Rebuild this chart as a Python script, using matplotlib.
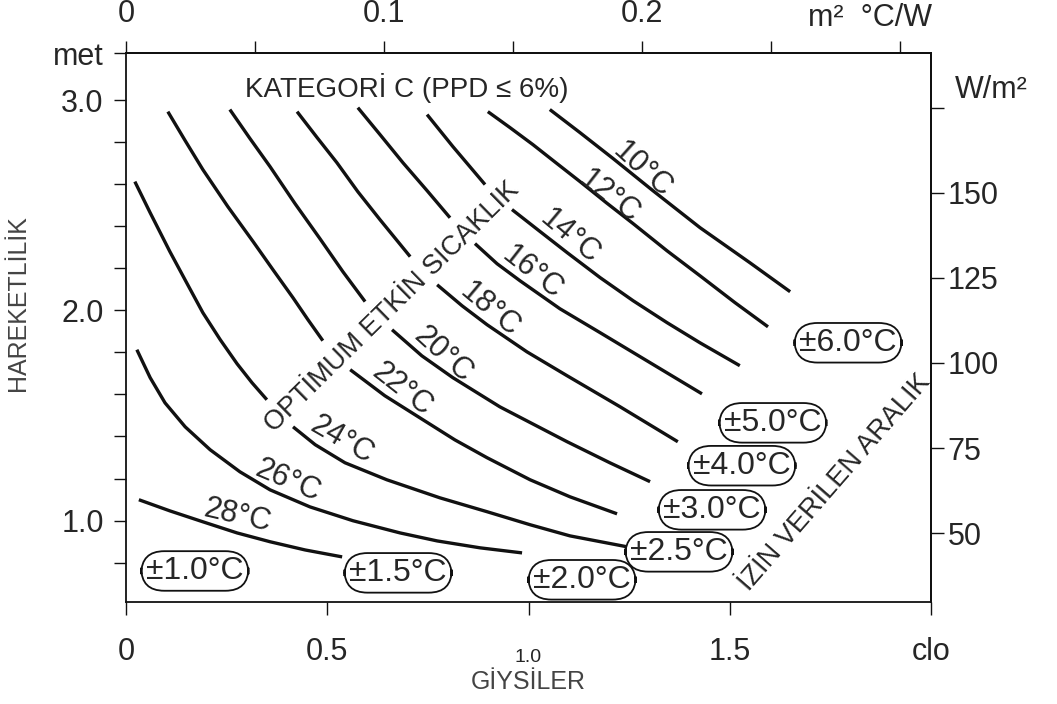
import numpy as np
import matplotlib
matplotlib.use("Agg")
import matplotlib.pyplot as plt

plt.rcParams['font.family'] = ['Liberation Sans', 'DejaVu Sans']

nan = np.nan

# ---- Optimum operatif sıcaklık eğrileri (clo, met) -------------------------
# nan = eğrinin "OPTİMUM ETKİN SICAKLIK" yazısı için boş bırakıldığı yer
curve_10_clo = [1.053, 1.128, 1.210, 1.309, 1.426, 1.550, 1.650]
curve_10_met = [2.956, 2.846, 2.723, 2.570, 2.394, 2.227, 2.089]

curve_12_clo = [0.899, 0.954, 1.011, 1.068, 1.128, 1.193, 1.260, 1.344,
                1.426, 1.513, 1.595]
curve_12_met = [2.946, 2.870, 2.789, 2.703, 2.613, 2.513, 2.413, 2.284,
                2.165, 2.037, 1.922]

curve_14_clo = [0.748, 0.812, 0.892, nan, 0.959, 1.029, 1.096, 1.178,
                1.260, 1.344, 1.426, 1.525]
curve_14_met = [2.932, 2.780, 2.599, nan, 2.480, 2.375, 2.275, 2.156,
                2.046, 1.942, 1.846, 1.737]

curve_16_clo = [0.576, 0.631, 0.688, 0.748, 0.805, nan, 0.867, 0.922,
                0.979, 1.078, 1.178, 1.344, 1.431]
curve_16_met = [2.965, 2.837, 2.703, 2.570, 2.441, nan, 2.318, 2.222,
                2.141, 2.008, 1.894, 1.703, 1.603]

curve_18_clo = [0.425, 0.475, 0.524, 0.576, 0.631, 0.706, nan, 0.773,
                0.835, 0.897, 0.996, 1.096, 1.227, 1.371]
curve_18_met = [2.946, 2.822, 2.703, 2.565, 2.432, 2.256, nan, 2.122,
                2.022, 1.932, 1.803, 1.689, 1.542, 1.375]

curve_20_clo = [0.258, 0.308, 0.358, 0.420, 0.482, 0.539, 0.594, nan,
                0.661, 0.735, 0.812, 0.929, 1.096, 1.202, 1.302]
curve_20_met = [2.956, 2.818, 2.684, 2.508, 2.341, 2.184, 2.042, nan,
                1.908, 1.784, 1.680, 1.541, 1.375, 1.275, 1.185]

curve_22_clo = [0.104, 0.147, 0.191, 0.253, 0.316, 0.365, 0.415, 0.452,
                0.489, nan, 0.557, 0.643, 0.730, 0.817, 0.897, 1.004,
                1.103, 1.220]
curve_22_met = [2.946, 2.808, 2.670, 2.494, 2.327, 2.194, 2.060, 1.956,
                1.856, nan, 1.718, 1.594, 1.489, 1.384, 1.299, 1.194,
                1.113, 1.032]

curve_24_clo = [0.022, 0.060, 0.109, 0.152, 0.191, 0.234, 0.276, 0.313,
                0.350, nan, 0.415, 0.470, 0.544, 0.648, 0.780, 0.897,
                1.004, 1.103, 1.245]
curve_24_met = [2.613, 2.465, 2.280, 2.127, 1.989, 1.861, 1.746, 1.656,
                1.575, nan, 1.446, 1.361, 1.275, 1.194, 1.108, 1.042,
                0.980, 0.927, 0.875]

curve_26_clo = [0.027, 0.060, 0.097, 0.147, 0.209, 0.283, 0.358, 0.457,
                0.564, 0.681, 0.773, 0.880, 0.984]
curve_26_met = [1.813, 1.680, 1.560, 1.446, 1.337, 1.232, 1.146, 1.065,
                0.999, 0.941, 0.903, 0.870, 0.846]

curve_28_clo = [0.032, 0.109, 0.191, 0.276, 0.358, 0.445, 0.537]
curve_28_met = [1.099, 1.046, 0.994, 0.941, 0.899, 0.860, 0.827]

temp_labels = ['10°C', '12°C', '14°C', '16°C', '18°C',
               '20°C', '22°C', '24°C', '26°C', '28°C']

# izin verilen aralıklar
range_labels = ['±1.0°C', '±1.5°C', '±2.0°C', '±2.5°C', '±3.0°C',
                '±4.0°C', '±5.0°C', '±6.0°C']

# eksen değerleri
clo_ticks = [0, 0.5, 1.0, 1.5, 2.0]
clo_ticklabels = ['0', '0.5', '', '1.5', 'clo']
met_ticks = [1.0, 2.0, 3.0, 3.225]
met_ticklabels = ['1.0', '2.0', '3.0', 'met']
met_minor = [0.8, 1.2, 1.4, 1.6, 1.8, 2.2, 2.4, 2.6, 2.8]
rcl_ticks = [0, 0.05, 0.1, 0.15, 0.2, 0.25, 0.3]
rcl_ticklabels = ['0', '', '0.1', '', '0.2', '', '']
wm2_ticks = [50, 75, 100, 125, 150, 175]
wm2_ticklabels = ['50', '75', '100', '125', '150', '']

CLO_TO_M2KW = 0.156          # 1 clo ~ 0.155 m2°C/W
MET_A, MET_B = 0.13, 0.0162  # sağ eksen ölçeği

# ---- yerleşim (konum/stil) -----------------------------------------------
curves = [(curve_10_clo, curve_10_met), (curve_12_clo, curve_12_met),
          (curve_14_clo, curve_14_met), (curve_16_clo, curve_16_met),
          (curve_18_clo, curve_18_met), (curve_20_clo, curve_20_met),
          (curve_22_clo, curve_22_met), (curve_24_clo, curve_24_met),
          (curve_26_clo, curve_26_met), (curve_28_clo, curve_28_met)]
temp_pos = [(1.282, 2.670, -42), (1.202, 2.541, -38), (1.103, 2.351, -40),
            (1.009, 2.180, -38), (0.904, 2.003, -40), (0.788, 1.789, -42),
            (0.686, 1.622, -38), (0.537, 1.385, -30), (0.402, 1.189, -23),
            (0.278, 1.022, -13)]
range_pos = [(0.171, 0.760), (0.676, 0.751), (1.133, 0.718), (1.374, 0.851),
             (1.456, 1.051), (1.530, 1.261), (1.607, 1.465), (1.794, 1.846)]

TXT = '#262626'
LINE = '#111111'

fig = plt.figure(figsize=(10.57, 7.04), dpi=100)
ax = fig.add_axes([0.1192, 0.1442, 0.7616, 0.7805])
ax.set_xlim(0, 2.0)
ax.set_ylim(0.61, 3.225)

for c, m in curves:
    ax.plot(c, m, color=LINE, lw=2.4, solid_capstyle='butt',
            solid_joinstyle='round', zorder=2)

for lab, (x, y, r) in zip(temp_labels, temp_pos):
    ax.text(x, y, lab, rotation=r, rotation_mode='anchor', ha='center',
            va='center', fontsize=22, color=TXT, zorder=3)

# önce yazılan kutu üstte kalsın (±2.0 kutusu ±2.5'in üstünde)
for i, (lab, (x, y)) in enumerate(zip(range_labels, range_pos)):
    ax.text(x, y, lab, ha='center', va='center', fontsize=23, color=TXT,
            zorder=20 - i, clip_on=False,
            bbox=dict(boxstyle='round,pad=0.15,rounding_size=0.72',
                      fc='white', ec=LINE, lw=1.3))

ax.text(0.698, 3.06, 'KATEGORİ C (PPD ≤ 6%)', ha='center', va='center',
        fontsize=20, color=TXT)
ax.text(0.661, 2.018, 'OPTİMUM ETKİN SICAKLIK', rotation=44.5,
        rotation_mode='anchor', ha='center', va='center', fontsize=19.5,
        color=TXT)
ax.text(1.761, 1.180, 'İZİN VERİLEN ARALIK', rotation=49,
        rotation_mode='anchor', ha='center', va='center', fontsize=19.5,
        color=TXT)

# alt / sol eksen
for s in ax.spines.values():
    s.set_linewidth(1.3)
    s.set_color(LINE)
ax.set_xticks(clo_ticks)
ax.set_xticklabels(clo_ticklabels)
ax.tick_params(axis='x', direction='out', length=9, width=1, pad=16,
               labelsize=22, color=LINE, labelcolor=TXT)
ax.set_yticks(met_ticks)
ax.set_yticklabels(met_ticklabels)
ax.set_yticks(met_minor, minor=True)
ax.tick_params(axis='y', which='both', direction='out', length=9, width=1,
               pad=7, labelsize=22, color=LINE, labelcolor=TXT)

xt = ax.get_xaxis_transform()
ax.text(1.0, -0.1, '1.0', transform=xt, ha='center', va='center',
        fontsize=14, color=TXT)
ax.text(1.0, -0.145, 'GİYSİLER', transform=xt, ha='center', va='center',
        fontsize=18, color='#444444')
fig.text(0.017, 0.57, 'HAREKETLİLİK', rotation=90, ha='center',
         va='center', fontsize=18, color='#444444')

# üst eksen: m2 °C/W
secx = ax.secondary_xaxis('top', functions=(lambda c: c * CLO_TO_M2KW,
                                            lambda r: r / CLO_TO_M2KW))
secx.set_xticks(rcl_ticks)
secx.set_xticklabels(rcl_ticklabels)
secx.tick_params(direction='out', length=9, width=1, pad=8, labelsize=22,
                 color=LINE, labelcolor=TXT)
secx.spines['top'].set_linewidth(1.3)
fig.text(0.7644, 0.9744, 'm²  °C/W', ha='left', va='center', fontsize=22,
         color=TXT)

# sağ eksen: W/m2
secy = ax.secondary_yaxis('right', functions=(lambda m: (m - MET_A) / MET_B,
                                              lambda w: w * MET_B + MET_A))
secy.set_yticks(wm2_ticks)
secy.set_yticklabels(wm2_ticklabels)
secy.tick_params(direction='out', length=9, width=1, pad=3, labelsize=22,
                 color=LINE, labelcolor=TXT)
secy.spines['right'].set_linewidth(1.3)
fig.text(0.9035, 0.8722, 'W/m²', ha='left', va='center', fontsize=22,
         color=TXT)

fig.savefig('out.png', dpi=100, facecolor='white')
